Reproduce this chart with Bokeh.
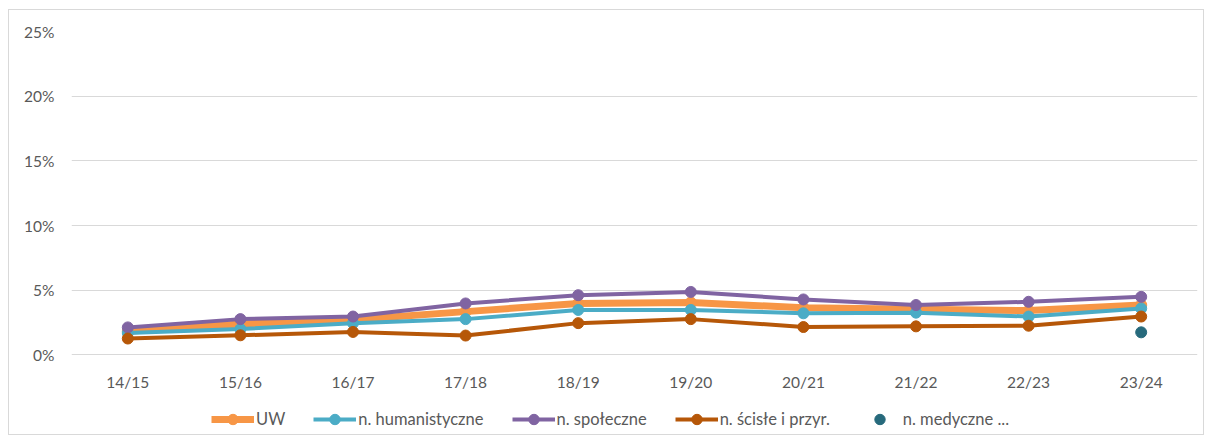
from bokeh.plotting import figure
from bokeh.models import ColumnDataSource, NumeralTickFormatter, FixedTicker, Legend, LegendItem
from bokeh.embed import file_html
from bokeh.resources import INLINE

years = ["14/15", "15/16", "16/17", "17/18", "18/19", "19/20", "20/21", "21/22", "22/23", "23/24"]
uw = [0.0183, 0.0239, 0.0272, 0.0335, 0.0398, 0.0406, 0.0365, 0.0353, 0.0343, 0.0386]
hum = [0.0170, 0.0200, 0.0246, 0.0277, 0.0348, 0.0348, 0.0322, 0.0327, 0.0297, 0.0360]
spol = [0.0213, 0.0277, 0.0297, 0.0398, 0.0462, 0.0487, 0.0429, 0.0386, 0.0411, 0.0449]
scis = [0.0127, 0.0152, 0.0178, 0.0150, 0.0246, 0.0277, 0.0216, 0.0221, 0.0226, 0.0297]
med_years = ["23/24"]
med = [0.0175]
y_ticks = [0, 0.05, 0.10, 0.15, 0.20, 0.25]

FONT = "Lato"
TXT = "#595959"

# frame extends below the 0% line so the legend can sit inside it
p = figure(x_range=years, y_range=(-0.0607, 0.25), width=1196, height=426,
           output_backend="svg", toolbar_location=None,
           min_border_left=62, min_border_right=8, min_border_top=21, min_border_bottom=3)
p.styles = {"border": "1px solid #d9d9d9", "box-sizing": "border-box",
            "margin-left": "8px", "margin-top": "9px"}
p.outline_line_color = None
p.xgrid.grid_line_color = None
p.yaxis.ticker = FixedTicker(ticks=y_ticks)
p.ygrid.ticker = FixedTicker(ticks=y_ticks)
p.ygrid.grid_line_color = "#d9d9d9"
p.ygrid.grid_line_width = 1
p.yaxis.formatter = NumeralTickFormatter(format="0%")
p.xaxis.fixed_location = 0
for ax in (p.xaxis, p.yaxis):
    ax.axis_line_color = None
    ax.major_tick_line_color = None
    ax.minor_tick_line_color = None
    ax.major_tick_out = 0
    ax.major_tick_in = 0
    ax.major_label_text_font = FONT
    ax.major_label_text_font_size = "15.5px"
    ax.major_label_text_color = TXT
p.yaxis.major_label_standoff = 17
p.xaxis.major_label_standoff = 18

series = [
    ("UW", uw, "#F79646", 7),
    ("n. humanistyczne", hum, "#4BACC6", 4),
    ("n. społeczne", spol, "#8064A2", 4),
    ("n. ścisłe i przyr.", scis, "#B65708", 4),
]
items = []
for name, vals, col, lw in series:
    src = ColumnDataSource(dict(x=years, y=vals))
    l = p.line("x", "y", source=src, line_color=col, line_width=lw)
    s = p.scatter("x", "y", source=src, size=11, fill_color=col, line_color=col)
    items.append(LegendItem(label=name, renderers=[l, s]))
msrc = ColumnDataSource(dict(x=med_years, y=med))
m = p.scatter("x", "y", source=msrc, size=11, fill_color="#276A7C", line_color="#276A7C")
items.append(LegendItem(label="n. medyczne ...", renderers=[m]))

legend = Legend(items=items, orientation="horizontal", location=(140, 1),
                glyph_width=43, glyph_height=26, label_height=26, label_standoff=2,
                spacing=28, padding=0, margin=0,
                label_text_font=FONT, label_text_font_size="16.5px", label_text_color=TXT,
                border_line_color=None, background_fill_alpha=0)
p.add_layout(legend, "center")

open("out.html", "w").write(file_html(p, INLINE))
